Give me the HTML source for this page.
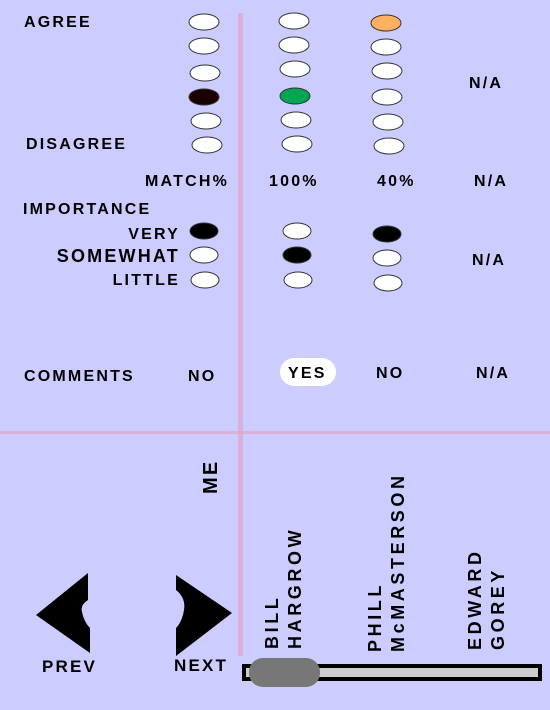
<!DOCTYPE html>
<html><head><style>
html,body{margin:0;padding:0}
body{width:550px;height:705px;background:#ccccff;overflow:hidden}
svg text{font-family:"Liberation Sans",Arial,sans-serif;font-weight:bold;fill:#000;letter-spacing:2.2px}
svg text.n{letter-spacing:3.6px;font-size:18px}
</style></head><body>
<svg width="550" height="705" viewBox="0 0 550 705" xmlns="http://www.w3.org/2000/svg">
<rect x="238" y="13" width="5" height="643" fill="#d8b0d8"/>
<rect x="0" y="431" width="550" height="3" fill="#ddb0d5"/>
<rect x="238" y="431" width="5" height="3" fill="#e0a8c8"/>
<g font-size="16">
<text x="24" y="27">AGREE</text>
<text x="26" y="149">DISAGREE</text>
<text x="469" y="88">N/A</text>
<text x="145" y="186">MATCH%</text>
<text x="269" y="186">100%</text>
<text x="377" y="186">40%</text>
<text x="474" y="186">N/A</text>
<text x="23" y="214">IMPORTANCE</text>
<text x="180" y="239" text-anchor="end">VERY</text>
<text x="180" y="262" text-anchor="end" font-size="18">SOMEWHAT</text>
<text x="180" y="285" text-anchor="end">LITTLE</text>
<text x="472" y="265">N/A</text>
<text x="24" y="381">COMMENTS</text>
<text x="188" y="381">NO</text>
<text x="376" y="378">NO</text>
<text x="476" y="378">N/A</text>
</g>
<g stroke="#333" stroke-width="1" fill="#fff">
<ellipse cx="204" cy="22" rx="15" ry="8"/>
<ellipse cx="204" cy="46" rx="15" ry="8"/>
<ellipse cx="205" cy="73" rx="15" ry="8"/>
<ellipse cx="204" cy="97" rx="15" ry="8" fill="#1a0000"/>
<ellipse cx="206" cy="121" rx="15" ry="8"/>
<ellipse cx="207" cy="145" rx="15" ry="8"/>
<ellipse cx="294" cy="21" rx="15" ry="8"/>
<ellipse cx="294" cy="45" rx="15" ry="8"/>
<ellipse cx="295" cy="69" rx="15" ry="8"/>
<ellipse cx="295" cy="96" rx="15" ry="8" fill="#00a651"/>
<ellipse cx="296" cy="120" rx="15" ry="8"/>
<ellipse cx="297" cy="144" rx="15" ry="8"/>
<ellipse cx="386" cy="23" rx="15" ry="8" fill="#ffb060"/>
<ellipse cx="386" cy="47" rx="15" ry="8"/>
<ellipse cx="387" cy="71" rx="15" ry="8"/>
<ellipse cx="387" cy="97" rx="15" ry="8"/>
<ellipse cx="388" cy="122" rx="15" ry="8"/>
<ellipse cx="389" cy="146" rx="15" ry="8"/>
<ellipse cx="204" cy="231" rx="14" ry="8" fill="#000"/>
<ellipse cx="204" cy="255" rx="14" ry="8"/>
<ellipse cx="205" cy="280" rx="14" ry="8"/>
<ellipse cx="297" cy="231" rx="14" ry="8"/>
<ellipse cx="297" cy="255" rx="14" ry="8" fill="#000"/>
<ellipse cx="298" cy="280" rx="14" ry="8"/>
<ellipse cx="387" cy="234" rx="14" ry="8" fill="#000"/>
<ellipse cx="387" cy="258" rx="14" ry="8"/>
<ellipse cx="388" cy="283" rx="14" ry="8"/>
</g>
<rect x="280" y="358" width="56" height="28" rx="14" fill="#fff"/>
<text x="288" y="378" font-size="16">YES</text>
<text transform="translate(217,494) rotate(-90)" font-size="20">ME</text>
<text class="n" transform="translate(278,649) rotate(-90)">BILL</text>
<text class="n" transform="translate(301,649) rotate(-90)">HARGROW</text>
<text class="n" transform="translate(381,652) rotate(-90)">PHILL</text>
<text class="n" transform="translate(404,652) rotate(-90)">McMASTERSON</text>
<text class="n" transform="translate(481,650) rotate(-90)">EDWARD</text>
<text class="n" transform="translate(504,650) rotate(-90)">GOREY</text>
<path d="M36,615 L88,573 L88,600 Q80,605 82,612 Q84,622 90,628 L90,653 Z" fill="#000"/>
<path d="M232,613 L176,575 L176,590 Q186,598 184,610 Q182,622 176,628 L176,656 Z" fill="#000"/>
<text x="42" y="672" font-size="17">PREV</text>
<text x="174" y="671" font-size="17">NEXT</text>
<rect x="242" y="664" width="300" height="17" fill="#000"/>
<rect x="246" y="668" width="292" height="9" fill="#cccccc"/>
<rect x="249" y="658" width="71" height="29" rx="14" fill="#777"/>
</svg>
</body></html>
